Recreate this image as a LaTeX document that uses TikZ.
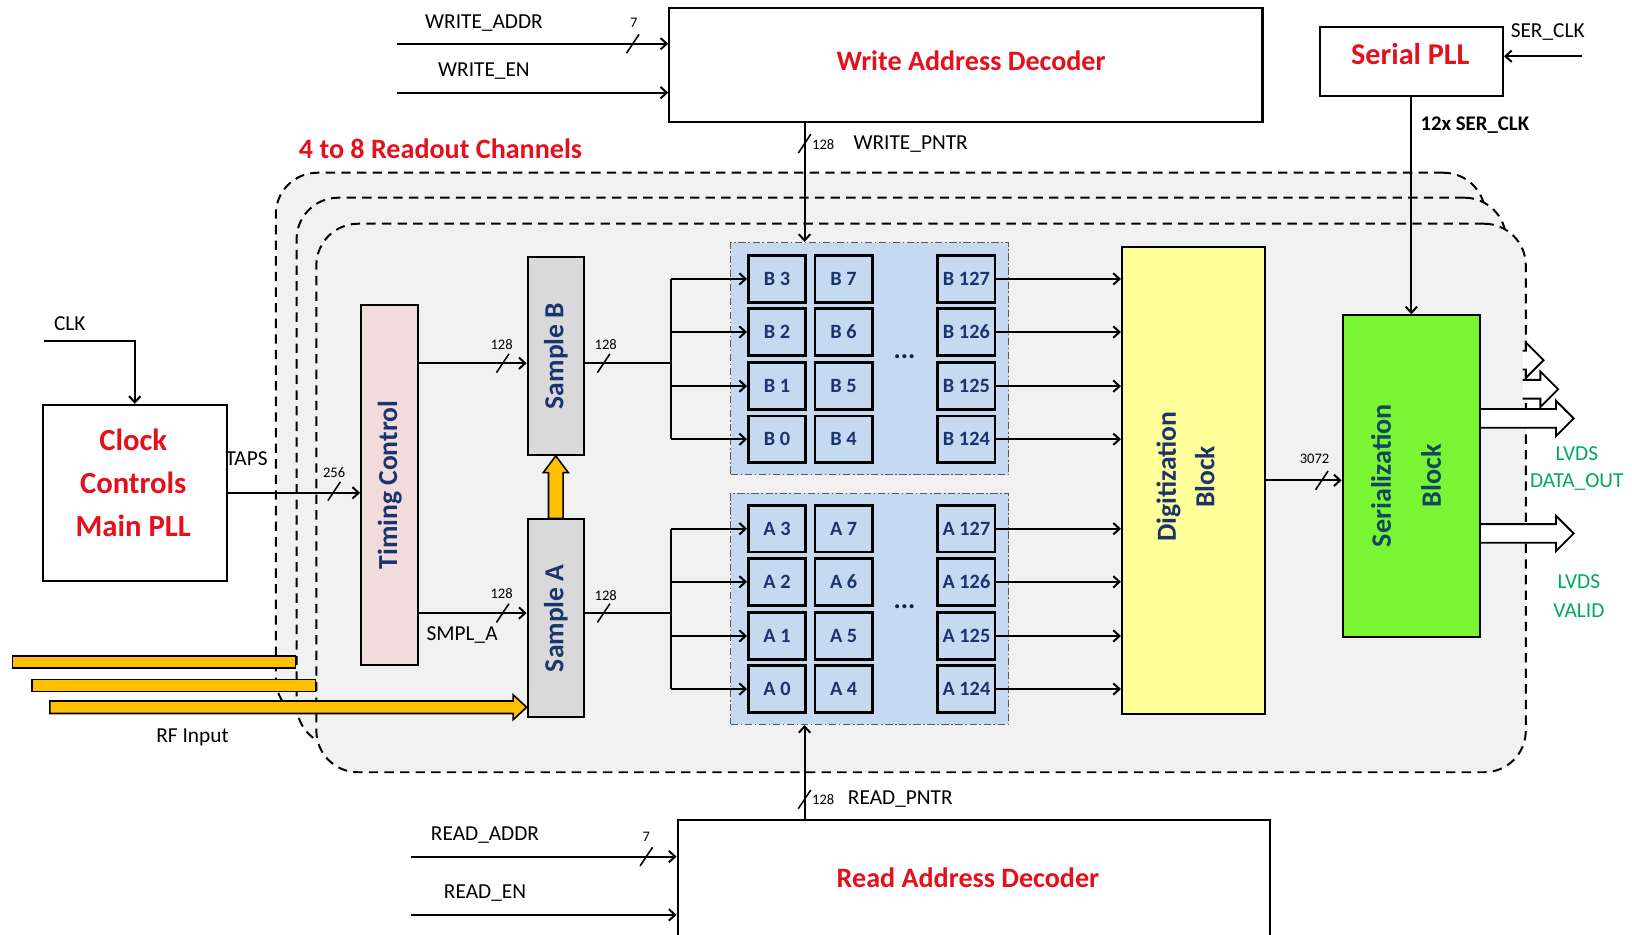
\documentclass[tikz,border=0pt]{standalone}
\usepackage{fontspec}
\setmainfont{Carlito}
\usetikzlibrary{arrows.meta,calc}
\definecolor{tred}{RGB}{228,16,28}
\definecolor{navy}{RGB}{28,52,110}
\definecolor{tealnavy}{RGB}{18,70,96}
\definecolor{lgreen}{RGB}{0,168,90}
\definecolor{bgray}{RGB}{241,241,241}
\definecolor{cellblue}{RGB}{197,217,241}
\definecolor{tcpink}{RGB}{242,220,219}
\definecolor{sgray}{RGB}{217,217,217}
\definecolor{dyellow}{RGB}{255,255,153}
\definecolor{sgreen}{RGB}{122,245,52}
\definecolor{rfyellow}{RGB}{255,192,0}
\begin{document}
\begin{tikzpicture}[x=1pt,y=-1pt,
  conn/.style={line width=1.9pt, draw=black},
  arr/.style={conn, -{Straight Barb[length=6pt,width=11pt]}},
  box/.style={draw, line width=2pt, inner sep=0pt, fill=white},
  chan/.style={draw, dash pattern=on 9pt off 6pt, line width=1.9pt, fill=bgray, rounded corners=40pt, inner sep=0pt},
  mem/.style={draw=black!65, dash pattern=on 7pt off 2.5pt on 1.5pt off 2.5pt, line width=1.2pt, fill=cellblue, inner sep=0pt},
  cell/.style={draw, line width=2.5pt, fill=cellblue, minimum width=55pt, minimum height=45pt, inner sep=0pt, font=\bfseries\fontsize{19.5}{19.5}\selectfont, text=navy},
  lbl/.style={font=\fontsize{20.5}{24}\selectfont, inner sep=0pt},
  num/.style={font=\fontsize{14}{15}\selectfont, inner sep=0pt},
  ttl/.style={font=\bfseries\fontsize{27}{32}\selectfont, text=tred, inner sep=0pt},
  vtx/.style={rotate=90, font=\bfseries\fontsize{26.5}{30}\selectfont, text=navy, align=center, inner sep=0pt},
  rf/.style={draw, line width=1.5pt, fill=rfyellow},
  fat/.style={draw, line width=1.8pt, fill=white},
  pics/busslash/.style={code={\draw[line width=1.5pt] (-6,9) -- (6,-9);}}
]
\useasboundingbox (0,0) rectangle (1568,898);

% ---- readout channel layers
\node[chan, minimum width=1162pt, minimum height=526pt, anchor=north west] (ch3) at (264,165) {};
\draw[rf] (12,630.5) rectangle (284,642);
\node[chan, minimum width=1162pt, minimum height=527pt, anchor=north west] (ch2) at (284,189) {};
\draw[rf] (31,653) rectangle (303,664.5);
\node[chan, minimum width=1162pt, minimum height=527pt, anchor=north west] (ch1) at (303,214) {};
\node[ttl, anchor=west] (chtitle) at (287,143) {4 to 8 Readout Channels};

% ---- decoders and PLLs
\node[box, minimum width=570pt, minimum height=109pt, anchor=north west] (wad) at (642,7) {};
\node[ttl] (wadt) at (933,58) {Write Address Decoder};
\node[box, minimum width=569pt, minimum height=140pt, anchor=north west] (rad) at (650,787) {};
\node[ttl] (radt) at (930,843) {Read Address Decoder};
\node[box, minimum width=176pt, minimum height=66pt, anchor=north west] (spll) at (1267,25) {};
\node[ttl, font=\bfseries\fontsize{29}{32}\selectfont] (spllt) at (1355,52) {Serial PLL};
\node[box, minimum width=177pt, minimum height=169pt, anchor=north west] (clock) at (40,388) {};
\node[ttl, align=center, font=\bfseries\fontsize{29.5}{41}\selectfont] (clockt) at (128,464) {Clock\\Controls\\Main PLL};

% ---- channel blocks
\node[box, fill=tcpink, minimum width=55pt, minimum height=346pt] (tc) at (374.5,466) {};
\node[vtx] (tct) at (tc.center) {Timing Control};
\node[box, fill=sgray, minimum width=54pt, minimum height=190pt] (sb) at (534,342) {};
\node[vtx] (sbt) at (sb.center) {Sample B};
\node[box, fill=sgray, minimum width=54pt, minimum height=190pt] (sa) at (534,594) {};
\node[vtx] (sat) at (sa.center) {Sample A};
\node[box, fill=dyellow, minimum width=137pt, minimum height=449pt] (dig) at (1146.5,461.5) {};
\node[vtx, font=\bfseries\fontsize{26.5}{37}\selectfont] (digt) at (1139,458) {Digitization\\Block};
\node[box, fill=sgreen, minimum width=132pt, minimum height=309pt] (ser) at (1356,457.5) {};
\node[vtx, text=tealnavy, font=\bfseries\fontsize{27}{48}\selectfont] (sert) at (1351,457) {Serialization\\Block};

% ---- memory arrays
\node[mem, minimum width=267pt, minimum height=223pt] (bmem) at (835.5,344.5) {};
\node[mem, minimum width=267pt, minimum height=222pt] (amem) at (835.5,585) {};
\foreach \r/\y in {3/268,2/319,1/371,0/422}{
  \pgfmathtruncatemacro\c{\r+4}
  \pgfmathtruncatemacro\d{\r+124}
  \node[cell] (b\r) at (746.5,\y) {B \r};
  \node[cell] (b\c) at (810.5,\y) {B \c};
  \node[cell] (b\d) at (928.5,\y) {B \d};
}
\foreach \r/\y in {3/508,2/559,1/611,0/662}{
  \pgfmathtruncatemacro\c{\r+4}
  \pgfmathtruncatemacro\d{\r+124}
  \node[cell] (a\r) at (746.5,\y) {A \r};
  \node[cell] (a\c) at (810.5,\y) {A \c};
  \node[cell] (a\d) at (928.5,\y) {A \d};
}
\node[font=\bfseries\fontsize{26}{26}\selectfont, text=navy!60!black] (dotsb) at (869,343) {...};
\node[font=\bfseries\fontsize{26}{26}\selectfont, text=navy!60!black] (dotsa) at (869,583) {...};

% ---- top inputs
\coordinate (wa0) at (381,42);
\coordinate (we0) at (381,89);
\draw[arr] (wa0) -- (wa0 -| wad.west);
\draw[arr] (we0) -- (we0 -| wad.west);
\pic at (608,42) {busslash};
\node[num] (n7a) at (609,22) {7};
\node[lbl] (twa) at (465,22) {WRITE\_ADDR};
\node[lbl] (twe) at (465,68) {WRITE\_EN};

\coordinate (wp) at (773,116);
\draw[arr] (wp) -- (wp |- bmem.north);
\pic at (773,138) {busslash};
\node[num] (n128w) at (791,139) {128};
\node[lbl] (twp) at (875,138) {WRITE\_PNTR};

\coordinate (sc) at (1520,54);
\draw[arr] (sc) -- (sc -| spll.east);
\node[lbl] (tsc) at (1487,31) {SER\_CLK};
\draw[arr] (spll.south) -- (spll.south |- ser.north);
\node[lbl, font=\bfseries\fontsize{20}{24}\selectfont] (t12) at (1417,120) {12x SER\_CLK};

% ---- clock
\coordinate (clk) at (42,328);
\draw[arr] (clk) -| (clock.north);
\node[lbl] (tclk) at (67,311) {CLK};
\draw[arr] (clock.east) -- (clock.east -| tc.west);
\pic at (321,472) {busslash};
\node[lbl] (ttaps) at (237,441) {TAPS};
\node[num] (n256) at (321,454) {256};

% ---- timing control to samples
\coordinate (ysb) at (0,349);
\coordinate (ysa) at (0,589);
\draw[arr] (tc.east |- ysb) -- (sb.west |- ysb);
\draw[arr] (tc.east |- ysa) -- (sa.west |- ysa);
\pic at (483,349) {busslash};
\pic at (483,589) {busslash};
\node[num] (n128tb) at (482,331) {128};
\node[num] (n128ta) at (482,570) {128};
\node[lbl] (tsmpl) at (444,610) {SMPL\_A};

% ---- yellow block arrow A -> B
\draw[rf] ($(sa.north)+(-7,0)$) -- ($(sb.south)+(-7,16)$) -- ($(sb.south)+(-12,16)$) -- (sb.south)
  -- ($(sb.south)+(12,16)$) -- ($(sb.south)+(7,16)$) -- ($(sa.north)+(7,0)$) -- cycle;

% ---- samples to memory
\coordinate (busb) at (645,349);
\coordinate (busa) at (645,589);
\draw[conn] (sb.east |- ysb) -- (busb);
\draw[conn] (sa.east |- ysa) -- (busa);
\pic at (580,349) {busslash};
\pic at (580,589) {busslash};
\node[num] (n128sb) at (582,331) {128};
\node[num] (n128sa) at (582,572) {128};
\draw[conn] (busb |- b3.west) -- (busb |- b0.west);
\draw[conn] (busa |- a3.west) -- (busa |- a0.west);
\foreach \r in {3,2,1,0}{
  \pgfmathtruncatemacro\d{\r+124}
  \draw[arr] (busb |- b\r.west) -- (b\r.west);
  \draw[arr] (busa |- a\r.west) -- (a\r.west);
  \draw[arr] (b\d.east) -- (b\d.east -| dig.west);
  \draw[arr] (a\d.east) -- (a\d.east -| dig.west);
}

% ---- digitization to serialization
\draw[arr] (dig.east) -- (dig.east -| ser.west);
\pic at (1270,461.5) {busslash};
\node[num] (n3072) at (1263,441) {3072};

% ---- output arrows
\coordinate (yd) at (0,402);
\coordinate (yv) at (0,512.5);
\draw[fat] (1463,337) -- (1466,337) -- (1466,329) -- (1483,346) -- (1466,363) -- (1466,355) -- (1463,355);
\draw[fat] (1463,365) -- (1480,365) -- (1480,357) -- (1497,374) -- (1480,391) -- (1480,383) -- (1463,383);
\draw[fat] ($(ser.east|-yd)+(0,-9)$) -- ++(72,0) -- ++(0,-8) -- ++(17,17) -- ++(-17,17) -- ++(0,-8) -- ++(-72,0);
\draw[fat] ($(ser.east|-yv)+(0,-9)$) -- ++(72,0) -- ++(0,-8) -- ++(17,17) -- ++(-17,17) -- ++(0,-8) -- ++(-72,0);
\node[lbl, text=lgreen] (tl1) at (1515,436) {LVDS};
\node[lbl, text=lgreen] (tdo) at (1515,463) {DATA\_OUT};
\node[lbl, text=lgreen] (tl2) at (1517,559) {LVDS};
\node[lbl, text=lgreen] (tvl) at (1517,587) {VALID};

% ---- RF input
\coordinate (rf3) at (48,679.5);
\draw[rf] ($(rf3)+(0,-6)$) -- ($(sa.west|-rf3)+(-13,-6)$) -- ($(sa.west|-rf3)+(-13,-12)$) -- (sa.west|-rf3)
  -- ($(sa.west|-rf3)+(-13,12)$) -- ($(sa.west|-rf3)+(-13,6)$) -- ($(rf3)+(0,6)$) -- cycle;
\node[lbl] (trf) at (185,708) {RF Input};

% ---- bottom inputs
\coordinate (rp) at (773,787);
\draw[arr] (rp) -- (rp |- amem.south);
\pic at (773,768) {busslash};
\node[num] (n128r) at (791,768) {128};
\node[lbl] (trp) at (865,768) {READ\_PNTR};
\coordinate (ra0) at (395,823);
\coordinate (re0) at (395,879);
\draw[arr] (ra0) -- (ra0 -| rad.west);
\draw[arr] (re0) -- (re0 -| rad.west);
\pic at (621,823) {busslash};
\node[num] (n7r) at (621,804) {7};
\node[lbl] (tra) at (466,802) {READ\_ADDR};
\node[lbl] (tre) at (466,858) {READ\_EN};
\end{tikzpicture}
\end{document}
